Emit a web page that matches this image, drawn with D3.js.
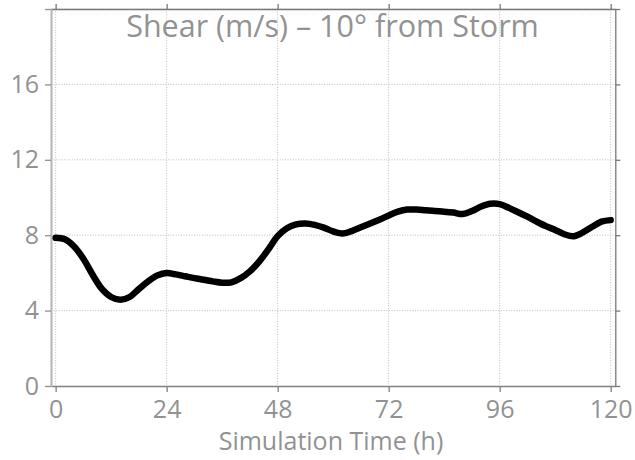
<!DOCTYPE html>
<html>
<head>
<meta charset="utf-8">
<script src="https://cdn.jsdelivr.net/npm/d3@7"></script>
<style>
  html, body { margin: 0; padding: 0; background: #fff; }
  svg { display: block; }
  text { font-family: "Open Sans", "Noto Sans", sans-serif; fill: #929292; }
</style>
</head>
<body>
<svg id="chart" width="635" height="460"></svg>
<script>
// Simulation hour and vertical wind shear (m/s) sampled along the run
const hours = [0, 2, 4, 6, 8, 10, 12, 14, 16, 18, 20, 22, 24, 26, 28, 30, 32, 34, 36, 38,
  40, 42, 44, 46, 48, 50, 52, 54, 56, 58, 60, 62, 64, 66, 68, 70, 72, 74, 76, 78,
  80, 82, 84, 86, 88, 90, 92, 94, 96, 98, 100, 102, 104, 106, 108, 110, 112, 114, 116, 118, 120];
const shear = [7.86, 7.78, 7.4, 6.75, 5.9, 5.15, 4.72, 4.57, 4.72, 5.15, 5.55, 5.87, 6.0, 5.92, 5.82, 5.72, 5.64, 5.55, 5.48, 5.5,
  5.72, 6.08, 6.6, 7.25, 7.95, 8.37, 8.57, 8.62, 8.55, 8.4, 8.2, 8.09, 8.22, 8.42, 8.62, 8.82, 9.05, 9.25, 9.36, 9.36,
  9.32, 9.28, 9.25, 9.2, 9.12, 9.28, 9.52, 9.67, 9.65, 9.45, 9.22, 8.98, 8.72, 8.48, 8.28, 8.05, 7.95, 8.15, 8.45, 8.72, 8.8];

const xTicks = [0, 24, 48, 72, 96, 120];
const xTickLabels = ["0", "24", "48", "72", "96", "120"];
const yTicks = [0, 4, 8, 12, 16, 20];
const yTickLabels = ["0", "4", "8", "12", "16", ""];

const titleText = "Shear (m/s) \u2013 10\u00b0 from Storm";
const xTitleText = "Simulation Time (h)";

const svg = d3.select("#chart");
const plotL = 51, plotR = 615.3, plotT = 9, plotB = 386;

const x = d3.scaleLinear().domain([-1, 121]).range([plotL, plotR]);
const y = d3.scaleLinear().domain([0, 20]).range([plotB, plotT]);

// dotted grid
const grid = svg.append("g");
grid.selectAll("line.v").data(xTicks).join("line").attr("class", "v")
  .attr("x1", d => x(d)).attr("x2", d => x(d))
  .attr("y1", plotT).attr("y2", plotB)
  .attr("stroke", "#bdbdbd").attr("stroke-width", 1).attr("stroke-dasharray", "1,1.6");
grid.selectAll("line.h").data(yTicks.slice(1)).join("line").attr("class", "h")
  .attr("x1", plotL).attr("x2", plotR)
  .attr("y1", d => y(d)).attr("y2", d => y(d))
  .attr("stroke", "#bdbdbd").attr("stroke-width", 1).attr("stroke-dasharray", "1,1.6");

// frame axes
const axTop = svg.append("g").attr("transform", `translate(0,${plotT})`)
  .call(d3.axisTop(x).tickValues(xTicks).tickSize(5).tickSizeOuter(0).tickFormat(""));
const axRight = svg.append("g").attr("transform", `translate(${plotR},0)`)
  .call(d3.axisRight(y).tickValues(yTicks).tickSize(5).tickSizeOuter(0).tickFormat(""));
const axBottom = svg.append("g").attr("transform", `translate(0,${plotB})`)
  .call(d3.axisBottom(x).tickValues(xTicks).tickSize(6).tickSizeOuter(0)
    .tickFormat((d, i) => xTickLabels[i]).tickPadding(8));
const axLeft = svg.append("g").attr("transform", `translate(${plotL},0)`)
  .call(d3.axisLeft(y).tickValues(yTicks).tickSize(6).tickSizeOuter(0)
    .tickFormat((d, i) => yTickLabels[i]).tickPadding(6));

[axTop, axRight].forEach(g => {
  g.select(".domain").attr("stroke", "#777").attr("stroke-width", 1.3);
  g.selectAll(".tick line").attr("stroke", "#777").attr("stroke-width", 1.3);
});
axBottom.select(".domain").attr("stroke", "#808080").attr("stroke-width", 1.5);
axBottom.selectAll(".tick line").attr("stroke", "#808080").attr("stroke-width", 1.3);
axLeft.select(".domain").attr("stroke", "#b4b4b4").attr("stroke-width", 2);
axLeft.selectAll(".tick line").attr("stroke", "#909090").attr("stroke-width", 1.3);

axBottom.selectAll(".tick text").attr("font-size", 25).attr("fill", "#929292")
  .attr("font-family", "'Open Sans', sans-serif");
axLeft.selectAll(".tick text").attr("font-size", 25).attr("fill", "#929292")
  .attr("font-family", "'Open Sans', sans-serif");

// shear curve
const line = d3.line()
  .x((d, i) => x(hours[i]))
  .y(d => y(d))
  .curve(d3.curveCatmullRom);
svg.append("path")
  .attr("d", line(shear))
  .attr("fill", "none")
  .attr("stroke", "#000")
  .attr("stroke-width", 6.5)
  .attr("stroke-linecap", "round")
  .attr("stroke-linejoin", "round");

// titles
svg.append("text").attr("x", 332.5).attr("y", 37)
  .attr("text-anchor", "middle").attr("font-size", 30.5)
  .text(titleText);
svg.append("text").attr("x", 331).attr("y", 450)
  .attr("text-anchor", "middle").attr("font-size", 25)
  .text(xTitleText);
</script>
</body>
</html>
